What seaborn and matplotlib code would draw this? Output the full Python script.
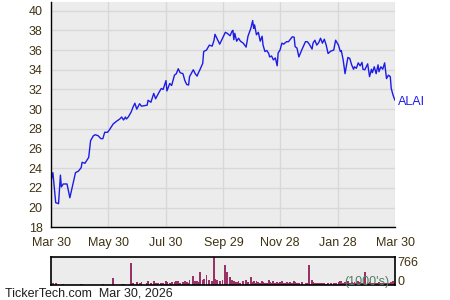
import matplotlib
matplotlib.use("Agg")
import matplotlib.pyplot as plt
import matplotlib.dates as mdates
from matplotlib.ticker import MultipleLocator, FixedLocator
import seaborn as sns
import pandas as pd

# ---------------- data ----------------
start_date = "2025-03-30"
day_offsets = [
    0, 2, 5, 8, 10, 11, 13, 17, 20, 24,
    26, 29, 32, 33, 36, 40, 42, 45, 47, 50,
    53, 55, 57, 60, 62, 66, 70, 73, 75, 77,
    79, 80, 82, 85, 87, 89, 91, 94, 96, 102,
    103, 106, 109, 111, 114, 117, 119, 122, 123, 126,
    128, 131, 133, 135, 137, 140, 142, 144, 146, 147,
    151, 153, 155, 156, 158, 161, 162, 165, 168, 171,
    173, 174, 176, 179, 182, 185, 187, 190, 192, 193,
    194, 195, 197, 199, 201, 204, 207, 209, 212, 214,
    215, 216, 218, 220, 222, 224, 225, 227, 229, 231,
    232, 234, 236, 238, 240, 241, 243, 245, 247, 248,
    250, 252, 254, 256, 258, 259, 261, 263, 266, 270,
    272, 274, 277, 278, 280, 282, 284, 286, 288, 290,
    292, 294, 297, 300, 302, 305, 307, 308, 310, 312,
    314, 315, 317, 319, 321, 322, 324, 326, 328, 330,
    331, 333, 336, 338, 340, 341, 343, 345, 347, 348,
    350, 352, 354, 356, 358, 360, 361, 363, 365,
]
close_price = [
    22.7, 23.55, 20.5, 20.4, 23.3, 22.1, 22.4, 22.4, 21.0, 22.7,
    23.55, 23.7, 24.05, 24.6, 24.5, 25.1, 26.8, 27.3, 27.4, 27.3,
    27.0, 27.0, 27.65, 27.65, 27.9, 28.5, 28.8, 29.0, 29.2, 28.9,
    29.2, 29.0, 29.2, 29.7, 30.2, 30.6, 30.0, 30.55, 30.3, 30.4,
    30.9, 30.7, 31.6, 31.05, 31.6, 32.1, 32.0, 32.9, 31.85, 32.6,
    32.4, 33.45, 33.6, 34.1, 33.7, 33.6, 32.9, 32.5, 32.45, 33.3,
    34.0, 33.6, 33.35, 33.6, 34.0, 34.65, 35.85, 36.0, 36.5, 36.4,
    37.0, 37.6, 37.2, 36.6, 37.2, 37.8, 37.7, 37.45, 37.9, 38.0,
    37.05, 37.7, 36.9, 37.2, 36.9, 36.7, 36.3, 37.4, 38.2, 39.0,
    38.2, 38.55, 37.55, 37.8, 36.9, 37.4, 36.5, 35.85, 35.95, 35.65,
    35.3, 35.4, 35.0, 35.2, 34.4, 35.7, 36.0, 36.7, 36.6, 36.7,
    36.85, 36.85, 37.1, 37.35, 37.3, 36.35, 36.2, 35.3, 36.0, 36.85,
    36.85, 36.6, 36.1, 36.7, 37.0, 36.5, 36.75, 37.2, 36.7, 37.1,
    36.5, 35.65, 35.9, 36.0, 37.0, 36.5, 35.85, 35.95, 35.0, 33.6,
    34.7, 35.25, 35.15, 34.5, 34.05, 34.3, 34.15, 34.7, 34.4, 34.75,
    34.05, 34.0, 34.6, 33.3, 34.05, 33.7, 34.3, 33.6, 34.5, 33.8,
    34.3, 34.05, 34.7, 33.1, 33.45, 33.3, 32.1, 31.4, 30.9,
]
volume_k = [
    0, 40, 45, 0, 0, 0, 20, 0, 0, 0,
    0, 0, 30, 30, 0, 0, 0, 0, 0, 0,
    0, 25, 0, 0, 0, 190, 0, 0, 30, 20,
    0, 0, 0, 600, 40, 0, 70, 60, 80, 50,
    90, 40, 110, 60, 50, 45, 60, 90, 70, 55,
    80, 70, 90, 100, 60, 70, 110, 80, 60, 140,
    237, 90, 100, 80, 355, 120, 150, 264, 130, 110,
    766, 150, 130, 90, 120, 538, 355, 220, 120, 90,
    100, 80, 70, 110, 60, 90, 130, 70, 220, 80,
    100, 60, 90, 70, 50, 110, 80, 60, 50, 120,
    70, 60, 90, 50, 80, 60, 70, 100, 60, 40,
    80, 50, 70, 60, 90, 70, 40, 60, 80, 50,
    60, 538, 120, 80, 60, 40, 60, 50, 40, 60,
    30, 50, 40, 60, 50, 70, 90, 110, 60, 80,
    60, 90, 50, 70, 60, 80, 60, 100, 70, 60,
    50, 350, 60, 80, 50, 60, 40, 60, 50, 70,
    60, 40, 50, 60, 40, 50, 80, 100, 60,
]
ticker = "ALAI"
x_tick_labels = ["Mar 30", "May 30", "Jul 30", "Sep 29", "Nov 28", "Jan 28", "Mar 30"]
x_tick_dates = ["2025-03-30", "2025-05-30", "2025-07-30", "2025-09-29",
                "2025-11-28", "2026-01-28", "2026-03-30"]
vol_max = 766
footer = "TickerTech.com  Mar 30, 2026"

# ---------------- build ----------------
dates = pd.Timestamp(start_date) + pd.to_timedelta(day_offsets, unit="D")
df = pd.DataFrame({"date": dates, "close": close_price, "volume": volume_k})

sns.set_style("white")
plt.rcParams["font.family"] = ["Liberation Sans", "DejaVu Sans"]

bg = "#ececec"
grid_c = "#d8d8d8"
txt_c = "#3f3212"
fs = 9

fig = plt.figure(figsize=(4.5, 3), dpi=100)
fig.patch.set_facecolor("white")
ax = fig.add_axes([51 / 450, 1 - 227.3 / 300, 344 / 450, 225.5 / 300])
axv = fig.add_axes([51 / 450, 1 - 284.7 / 300, 344 / 450, 28 / 300])

tick_dt = pd.to_datetime(x_tick_dates)
x0, x1 = tick_dt[0], tick_dt[-1]
minor_dt = [tick_dt[i] + (tick_dt[i + 1] - tick_dt[i]) / 2 for i in range(len(tick_dt) - 1)]

# price panel
ax.set_facecolor(bg)
sns.lineplot(data=df, x="date", y="close", ax=ax, color="#1c1ce6", linewidth=1.0)
ax.set_xlim(x0, x1)
ax.set_ylim(18, 40.9)
ax.yaxis.set_major_locator(MultipleLocator(2))
ax.yaxis.set_minor_locator(MultipleLocator(1))
ax.set_xticks(mdates.date2num(tick_dt))
ax.set_xticklabels(x_tick_labels)
ax.xaxis.set_minor_locator(FixedLocator(mdates.date2num(minor_dt)))
ax.grid(True, which="major", color=grid_c, linewidth=1.0)
ax.set_axisbelow(True)
ax.set_xlabel("")
ax.set_ylabel("")
for s in ["top", "right"]:
    ax.spines[s].set_visible(False)
for s in ["left", "bottom"]:
    ax.spines[s].set_color("black")
    ax.spines[s].set_linewidth(1.0)
ax.tick_params(axis="both", which="both", direction="in", colors="black",
               labelcolor=txt_c, labelsize=fs)
ax.tick_params(axis="x", which="both", length=4.5, pad=7)
ax.tick_params(axis="y", which="both", length=3, pad=6)

last = df.iloc[-1]
ax.annotate(ticker, xy=(last["date"], last["close"]), xytext=(2, -1),
            textcoords="offset points", color="#1c1ce6", fontsize=fs,
            va="center", ha="left", annotation_clip=False)

# volume panel
axv.set_facecolor(bg)
axv.bar(df["date"], df["volume"], width=2.0, color="#993366", linewidth=0)
axv.set_xlim(x0, x1)
axv.set_ylim(0, vol_max)
axv.set_xticks([])
axv.set_yticks([])
for s in axv.spines.values():
    s.set_visible(True)
    s.set_color("black")
    s.set_linewidth(1.2)
axv.text(1.006, 0.79, str(vol_max), transform=axv.transAxes, ha="left",
         va="center", fontsize=fs, color=txt_c)
axv.text(1.006, 0.09, "0", transform=axv.transAxes, ha="left",
         va="center", fontsize=fs, color=txt_c)
axv.text(0.985, 0.1, "(1000's)", transform=axv.transAxes, ha="right",
         va="center", fontsize=fs, color="#4f7f60")

fig.text(5 / 450, 1 - 294 / 300, footer, ha="left", va="center",
         fontsize=fs, color="#1e1e1e")

fig.savefig("out.png", dpi=100)
